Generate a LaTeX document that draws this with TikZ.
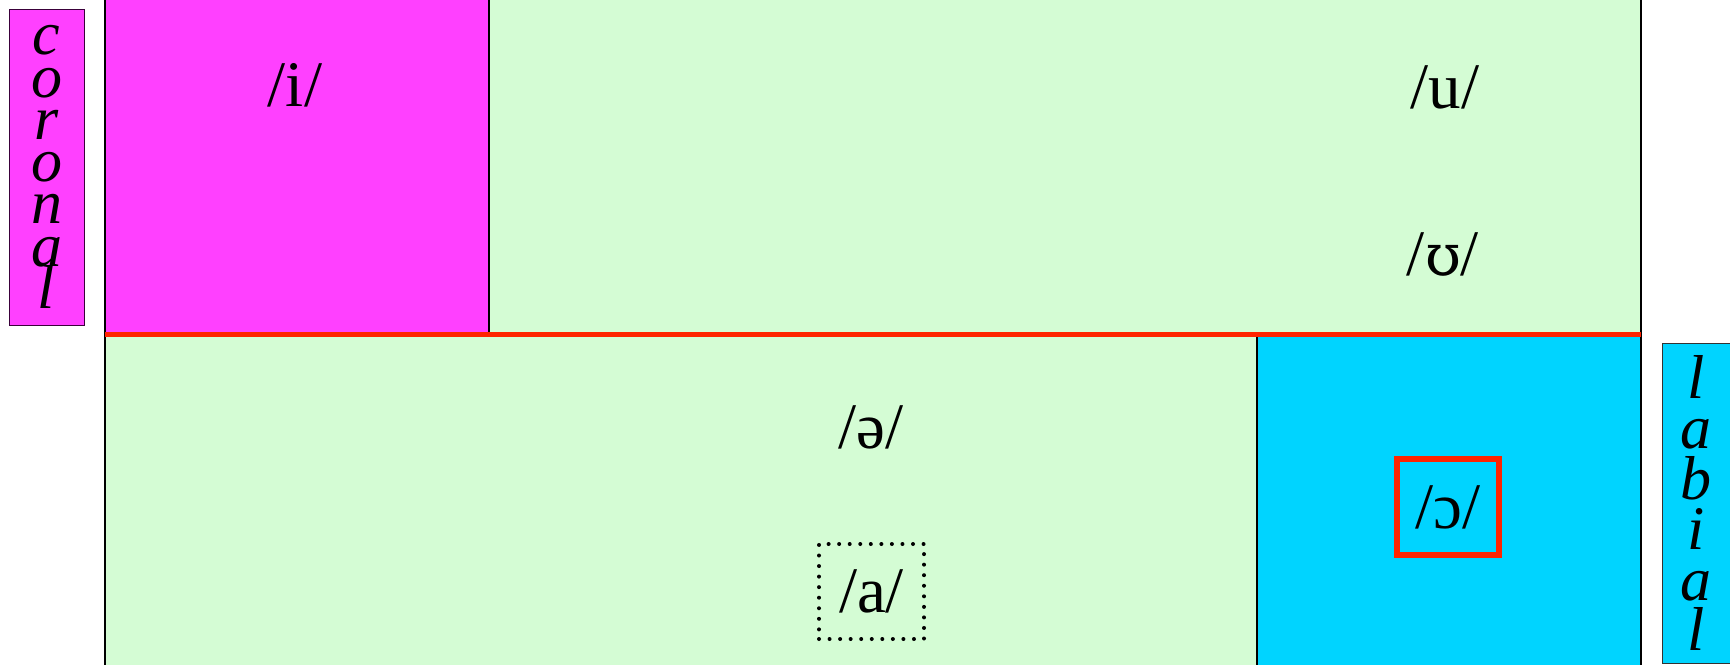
\documentclass[tikz,border=0pt]{standalone}
\usepackage{fontspec}
\setmainfont{Liberation Serif}
\newfontfamily\ipafont{DejaVu Serif}
\usetikzlibrary{positioning}
\definecolor{vmagenta}{HTML}{FF40FF}
\definecolor{vgreen}{HTML}{D4FCD4}
\definecolor{vcyan}{HTML}{00D4FF}
\definecolor{vred}{HTML}{FF2400}
\definecolor{vplum}{HTML}{3A003A}
\setlength{\lineskiplimit}{-100pt}
\tikzset{
  sep/.style={line width=2pt, black},
  vowel/.style={inner sep=0pt, font=\fontsize{65}{78}\selectfont},
  tagbox/.style={align=center, inner sep=0pt, line width=1pt,
                 font=\fontsize{62}{#1}\selectfont\itshape},
}

\begin{document}
\begin{tikzpicture}[x=1pt, y=-1pt]
  \useasboundingbox (0,0) rectangle (1730,665);

  % vowel regions
  \fill[vmagenta] (105,0) rectangle (489,333);
  \fill[vgreen] (489,0) rectangle (1641,333);
  \fill[vgreen] (105,337) rectangle (1257,665);
  \fill[vcyan] (1257,337) rectangle (1641,665);

  \draw[sep] (105,0) -- (105,665);
  \draw[sep] (1640.5,0) -- (1640.5,665);
  \draw[sep] (489,0) -- (489,333);
  \draw[sep] (1257,337) -- (1257,665);
  \draw[vred, line width=5pt] (105,334.5) -- (1640.5,334.5);

  % side labels
  \node[tagbox=42.3, draw=vplum, fill=vmagenta, minimum width=75, minimum height=316] (coronal) at (46.5,167) {c\\o\\r\\o\\n\\a\\l};
  \node[tagbox=50.4, draw=black!80, fill=vcyan, minimum width=68, minimum height=320] (labial) at (1696,503) {l\\a\\b\\i\\a\\l};

  % vowels
  \node[vowel] (i) at (295,85) {/i/};
  \node[vowel] (u) at (1445,87) {/u/};
  \node[vowel] (upsilon) at (1443,254) {/{\ipafont\fontsize{58}{70}\selectfont ʊ}/};
  \node[vowel] (schwa) at (871,427) {/ə/};
  \node[vowel, draw, line width=4pt, line cap=round, dash pattern=on 0pt off 10.55pt,
        minimum width=105, minimum height=95] (a) at (871.5,591.5) {/a/};
  \node[vowel, draw=vred, line width=6pt, minimum width=102, minimum height=96] (openo) at (1448,507) {/ɔ/};

\end{tikzpicture}
\end{document}
